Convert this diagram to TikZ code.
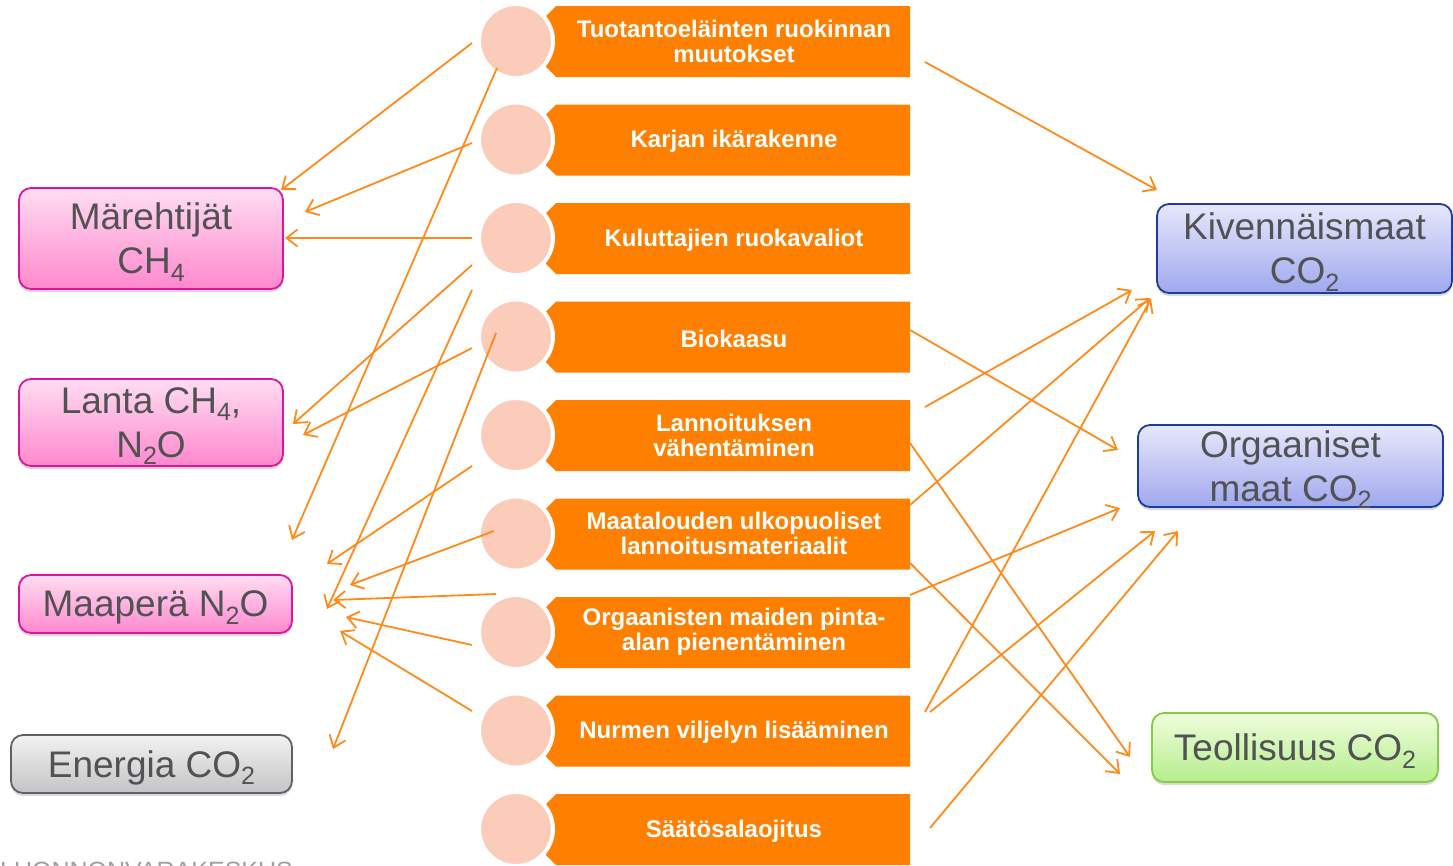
\documentclass[tikz,border=0pt]{standalone}
\usepackage{fontspec}
\setmainfont{Liberation Sans}
\usetikzlibrary{arrows.meta,shadows}
\definecolor{tabor}{HTML}{FF8000}
\definecolor{arrowor}{HTML}{FF8A1A}
\definecolor{peach}{HTML}{FBCCBA}
\definecolor{txtgray}{HTML}{505254}
\definecolor{pinktop}{HTML}{FFDDF2}
\definecolor{pinkbot}{HTML}{FF88CE}
\definecolor{pinkline}{HTML}{E0149C}
\definecolor{graytop}{HTML}{F2F2F2}
\definecolor{graybot}{HTML}{C4C4C6}
\definecolor{grayline}{HTML}{5E6266}
\definecolor{bluetop}{HTML}{E6E8FB}
\definecolor{bluebot}{HTML}{A0A8EE}
\definecolor{blueline}{HTML}{1E3C9E}
\definecolor{greentop}{HTML}{EEFDDC}
\definecolor{greenbot}{HTML}{B6EE8C}
\definecolor{greenline}{HTML}{84CC44}
\definecolor{footgray}{HTML}{A0A0A0}
\newcommand\lowsub[1]{\raisebox{-0.2em}{\fontsize{25}{25}\selectfont #1}}
\begin{document}
\begin{tikzpicture}[x=1pt,y=-1pt,
  box/.style={rounded corners=12pt, line width=1.8pt, align=center, text=txtgray,
    font=\fontsize{37}{44}\selectfont, inner sep=0pt, text depth=0pt,
    drop shadow={opacity=0.3, shadow xshift=0pt, shadow yshift=-3pt}},
  pinkbox/.style={box, draw=pinkline, top color=pinktop, bottom color=pinkbot},
  graybox/.style={box, draw=grayline, top color=graytop, bottom color=graybot},
  bluebox/.style={box, draw=blueline, top color=bluetop, bottom color=bluebot},
  greenbox/.style={box, draw=greenline, top color=greentop, bottom color=greenbot},
  tabtext/.style={text=white, font=\fontsize{24}{25}\selectfont\bfseries, align=center, inner sep=0pt},
  tabbg/.style={fill=tabor},
  dot/.style={circle, fill=peach, draw=white, line width=4pt, minimum size=74pt, inner sep=0pt},
  arr/.style={draw=arrowor, line width=1.8pt, -{Straight Barb[length=11pt,width=17pt]}}
]
\useasboundingbox (0,0) rectangle (1453,865);

% footer text, cut by the page edge as in the reference
\begin{scope}
\clip (0,0) rectangle (1453,865);
\node[anchor=base west, text=footgray, font=\fontsize{25}{25}\selectfont, inner sep=0pt] (foot) at (0,879) {LUONNONVARAKESKUS};
\end{scope}

% left boxes
\node[pinkbox, minimum width=264pt, minimum height=101pt] (mar) at (151,238.5) {Märehtijät\\CH\lowsub{4}};
\node[pinkbox, minimum width=264pt, minimum height=87pt] (lan) at (151,422.5) {Lanta CH\lowsub{4},\\N\lowsub{2}O};
\node[pinkbox, minimum width=273pt, minimum height=58pt] (maa) at (155.5,604) {Maaperä N\lowsub{2}O};
\node[graybox, minimum width=281pt, minimum height=58pt] (ene) at (151.5,764) {Energia CO\lowsub{2}};

% right boxes
\node[bluebox, minimum width=295pt, minimum height=89pt] (kiv) at (1304.5,248.5) {Kivennäismaat\\CO\lowsub{2}};
\node[bluebox, minimum width=305pt, minimum height=82pt] (org) at (1290.5,466) {Orgaaniset\\maat CO\lowsub{2}};
\node[greenbox, minimum width=286pt, minimum height=69pt] (teo) at (1295,747.5) {Teollisuus CO\lowsub{2}};

% centre tabs
\foreach \c in {41,139.5,238,336.5,435,533.5,632,730.5,829}{
  \path[tabbg] (556,\c-35) -- (910,\c-35) -- (910,\c+36) -- (556,\c+36) -- (546,\c+26) -- (546,\c-25) -- cycle;
}
\node[tabtext] (t1) at (734,41) {Tuotantoeläinten ruokinnan\\muutokset};
\node[tabtext] (t2) at (734,141.5) {Karjan ikärakenne};
\node[tabtext] (t3) at (734,240) {Kuluttajien ruokavaliot};
\node[tabtext] (t4) at (734,338.5) {Biokaasu};
\node[tabtext] (t5) at (734,435) {Lannoituksen\\vähentäminen};
\node[tabtext] (t6) at (734,533.5) {Maatalouden ulkopuoliset\\lannoitusmateriaalit};
\node[tabtext] (t7) at (734,632) {Orgaanisten maiden pinta-\\alan pienentäminen};
\node[tabtext] (t8) at (734,732.5) {Nurmen viljelyn lisääminen};
\node[tabtext] (t9) at (734,831) {Säätösalaojitus};

\foreach \i/\c in {1/41,2/139.5,3/238,4/336.5,5/435,6/533.5,7/632,8/730.5,9/829}{
  \node[dot] (c\i) at (516,\c) {};
}

% connectors
\foreach \n/\xa/\ya/\xb/\yb in {
  1/472/43/281/190, 2/472/143/305/212, 3/472/238/285/238, 4/497/68/292/540,
  5/472/265/293/424, 6/472/348/303/435, 7/472/290/327/609, 8/496/333/333/749,
  9/472/466/327/564, 10/494/531/350/585, 11/496/594/333/600, 12/472/645/346/617,
  13/472/711/340/631,
  14/925/62/1157/190, 15/910/330/1118/450, 16/925/407/1132/290, 17/910/443/1130/757,
  18/910/505/1150/298, 19/910/563/1120/774, 20/910/595/1120/508, 21/925/712/1151/299,
  22/930/712/1155/531, 23/930/828/1178/531}{
  \coordinate (s\n) at (\xa,\ya);
  \coordinate (e\n) at (\xb,\yb);
  \draw[arr] (s\n) -- (e\n);
}
\end{tikzpicture}
\end{document}
